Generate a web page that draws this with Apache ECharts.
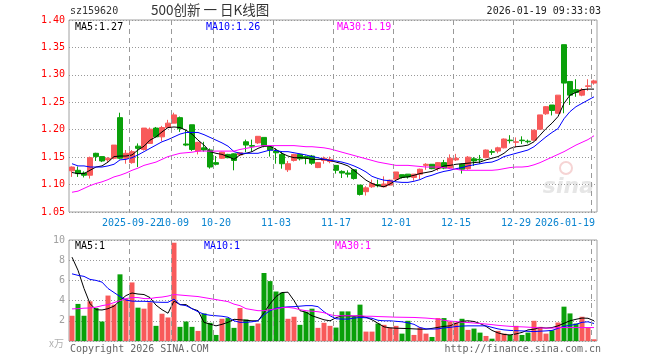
<!DOCTYPE html>
<html><head><meta charset="utf-8">
<script src="https://cdn.jsdelivr.net/npm/echarts@6/dist/echarts.min.js"></script>
<style>html,body{margin:0;padding:0;background:#fff}#c{width:660px;height:360px}</style>
</head><body><div id="c"></div>
<script>
const dates = [
'2025-09-08','2025-09-09','2025-09-10','2025-09-11','2025-09-12','2025-09-15','2025-09-16','2025-09-17','2025-09-18','2025-09-19',
'2025-09-22','2025-09-23','2025-09-24','2025-09-25','2025-09-26','2025-09-29','2025-09-30',
'2025-10-09','2025-10-10','2025-10-13','2025-10-14','2025-10-15','2025-10-16','2025-10-17','2025-10-20','2025-10-21','2025-10-22','2025-10-23','2025-10-24','2025-10-27','2025-10-28','2025-10-29','2025-10-30','2025-10-31',
'2025-11-03','2025-11-04','2025-11-05','2025-11-06','2025-11-07','2025-11-10','2025-11-11','2025-11-12','2025-11-13','2025-11-14','2025-11-17','2025-11-18','2025-11-19','2025-11-20','2025-11-21','2025-11-24','2025-11-25','2025-11-26','2025-11-27','2025-11-28',
'2025-12-01','2025-12-02','2025-12-03','2025-12-04','2025-12-05','2025-12-08','2025-12-09','2025-12-10','2025-12-11','2025-12-12','2025-12-15','2025-12-16','2025-12-17','2025-12-18','2025-12-19','2025-12-22','2025-12-23','2025-12-24','2025-12-25','2025-12-26','2025-12-29','2025-12-30','2025-12-31',
'2026-01-05','2026-01-06','2026-01-07','2026-01-08','2026-01-09','2026-01-12','2026-01-13','2026-01-14','2026-01-15','2026-01-16','2026-01-19'];

const opens = [1.125,1.126,1.121,1.117,1.157,1.151,1.145,1.148,1.222,1.148,1.140,1.170,1.164,1.175,1.203,1.187,1.204,1.212,1.222,1.174,1.209,1.161,
1.167,1.163,1.140,1.148,1.155,1.156,1.154,1.178,1.171,1.176,1.186,1.169,1.161,1.155,1.127,1.144,1.155,1.151,1.152,1.131,1.144,1.142,
1.135,1.124,1.121,1.127,1.099,1.087,1.096,1.100,1.096,1.099,1.110,1.118,1.119,1.113,1.119,1.135,1.137,1.129,1.140,1.131,1.145,1.137,
1.129,1.147,1.146,1.149,1.160,1.161,1.167,1.181,1.177,1.181,1.179,1.181,1.201,1.229,1.245,1.230,1.355,1.288,1.273,1.263,1.279,1.285];
const closes = [1.132,1.120,1.117,1.149,1.151,1.143,1.148,1.172,1.148,1.157,1.160,1.166,1.203,1.201,1.187,1.204,1.212,1.227,1.202,1.172,1.164,1.177,
1.163,1.132,1.137,1.159,1.149,1.144,1.158,1.172,1.170,1.188,1.170,1.163,1.158,1.138,1.138,1.155,1.147,1.148,1.139,1.140,1.148,1.146,
1.126,1.121,1.119,1.111,1.082,1.094,1.102,1.098,1.101,1.108,1.123,1.113,1.114,1.119,1.128,1.137,1.129,1.140,1.130,1.148,1.148,1.128,
1.150,1.143,1.145,1.163,1.159,1.167,1.183,1.180,1.178,1.180,1.178,1.199,1.227,1.242,1.235,1.263,1.285,1.263,1.268,1.273,1.280,1.289];
const lows = [1.114,1.114,1.113,1.111,1.143,1.141,1.141,1.146,1.146,1.138,1.138,1.132,1.162,1.174,1.186,1.179,1.203,1.212,1.196,1.170,1.161,1.155,
1.160,1.129,1.135,1.147,1.148,1.126,1.152,1.159,1.160,1.174,1.168,1.151,1.138,1.129,1.123,1.142,1.144,1.137,1.136,1.130,1.138,1.139,
1.120,1.112,1.113,1.109,1.080,1.080,1.094,1.095,1.095,1.098,1.109,1.111,1.111,1.107,1.110,1.127,1.128,1.125,1.128,1.129,1.143,1.120,
1.127,1.134,1.138,1.148,1.154,1.157,1.166,1.175,1.168,1.174,1.175,1.180,1.200,1.227,1.226,1.229,1.230,1.245,1.260,1.261,1.271,1.282];
const highs = [1.133,1.133,1.124,1.151,1.158,1.151,1.150,1.172,1.231,1.163,1.163,1.175,1.203,1.204,1.205,1.207,1.218,1.231,1.224,1.200,1.209,1.178,
1.178,1.166,1.152,1.160,1.156,1.157,1.159,1.182,1.182,1.188,1.186,1.170,1.166,1.160,1.143,1.156,1.156,1.153,1.154,1.141,1.151,1.151,
1.135,1.126,1.126,1.128,1.099,1.097,1.109,1.109,1.115,1.109,1.123,1.118,1.119,1.119,1.129,1.139,1.137,1.141,1.145,1.155,1.156,1.138,
1.152,1.150,1.154,1.164,1.164,1.169,1.184,1.190,1.186,1.188,1.182,1.200,1.227,1.243,1.245,1.263,1.355,1.288,1.292,1.276,1.292,1.291];

const ma5 = [1.122,1.120,1.120,1.126,1.132,1.134,1.141,1.151,1.152,1.152,1.154,1.163,1.170,1.181,1.187,1.196,1.204,1.205,1.204,1.199,1.192,1.181,
1.172,1.160,1.157,1.155,1.151,1.146,1.154,1.157,1.160,1.166,1.170,1.170,1.164,1.157,1.152,1.149,1.149,1.148,1.146,1.146,1.146,1.144,
1.141,1.138,1.134,1.126,1.117,1.108,1.102,1.098,1.096,1.101,1.108,1.113,1.114,1.117,1.120,1.122,1.124,1.129,1.134,1.135,1.137,1.138,
1.139,1.140,1.141,1.145,1.148,1.151,1.157,1.166,1.169,1.170,1.172,1.178,1.190,1.202,1.212,1.224,1.248,1.263,1.268,1.273,1.274,1.274];
const ma10 = [1.138,1.134,1.134,1.132,1.132,1.132,1.134,1.137,1.145,1.146,1.149,1.154,1.160,1.166,1.172,1.178,1.182,1.187,1.192,1.195,1.195,1.195,
1.191,1.186,1.181,1.176,1.170,1.160,1.157,1.157,1.157,1.157,1.160,1.163,1.162,1.160,1.160,1.158,1.156,1.154,1.151,1.149,1.146,1.144,
1.143,1.141,1.138,1.134,1.129,1.123,1.115,1.111,1.108,1.107,1.105,1.104,1.104,1.106,1.109,1.114,1.117,1.121,1.124,1.126,1.129,1.131,
1.134,1.136,1.138,1.140,1.141,1.145,1.151,1.154,1.157,1.160,1.163,1.169,1.178,1.187,1.195,1.202,1.220,1.233,1.242,1.248,1.254,1.260];
const ma30 = [1.086,1.088,1.093,1.098,1.102,1.105,1.109,1.114,1.117,1.121,1.126,1.130,1.135,1.138,1.141,1.146,1.151,1.154,1.157,1.158,1.159,1.161,
1.161,1.161,1.161,1.161,1.161,1.161,1.164,1.166,1.168,1.170,1.171,1.171,1.171,1.171,1.171,1.171,1.170,1.169,1.169,1.168,1.167,1.165,
1.162,1.159,1.156,1.153,1.150,1.147,1.144,1.141,1.139,1.137,1.135,1.135,1.135,1.134,1.133,1.132,1.132,1.132,1.131,1.129,1.128,1.126,
1.126,1.126,1.126,1.126,1.126,1.127,1.129,1.131,1.132,1.132,1.133,1.136,1.140,1.145,1.150,1.155,1.160,1.166,1.172,1.177,1.182,1.189];

const volumes = [2.5,3.67,2.5,3.93,3.27,1.93,4.5,3.6,6.6,4.17,5.8,3.3,3.2,3.83,1.5,2.7,2.33,9.73,1.4,1.93,1.4,1.0,
2.73,1.8,0.6,2.2,2.27,1.3,3.27,2.13,1.5,1.73,6.73,5.93,4.9,4.8,2.2,2.4,1.6,2.9,3.2,1.3,1.8,1.5,
1.33,2.93,2.93,2.4,3.6,0.93,0.93,1.73,1.6,1.33,1.5,0.73,2.0,0.6,1.33,0.73,0.4,2.27,2.27,1.93,1.83,2.2,
1.1,1.23,0.83,0.5,0.23,1.0,0.73,0.6,1.5,0.6,0.83,2.0,1.4,0.73,1.07,1.83,3.4,2.73,1.73,2.4,1.33,0.17];
const vma5 = [8.3,7.0,5.2,3.7,3.1,3.07,3.2,3.45,4.0,4.5,4.75,4.65,4.6,4.3,3.55,3.1,2.75,3.95,3.6,3.6,3.2,3.0,
1.85,1.67,1.5,1.65,1.85,2.15,2.1,2.05,2.0,2.0,2.8,3.67,4.4,4.8,4.83,4.0,3.0,2.85,2.5,2.3,2.1,2.0,
2.3,2.5,2.5,2.45,2.5,2.35,2.1,1.75,1.4,1.3,1.27,1.25,1.23,1.2,1.17,1.17,1.25,1.35,1.45,1.5,1.75,1.95,
2.0,1.93,1.73,1.45,1.05,0.8,0.65,0.6,0.7,0.85,1.1,1.17,1.33,1.28,1.33,1.5,1.75,2.0,2.15,2.27,2.25,2.0];
const vma10 = [6.65,6.5,6.4,6.1,6.0,5.83,5.2,4.8,4.4,4.05,3.95,3.93,3.93,3.9,3.85,3.83,3.83,4.15,3.6,3.5,3.2,2.9,
2.65,2.55,2.5,2.45,2.35,2.0,1.85,1.85,1.9,2.0,2.6,3.0,3.25,3.33,3.38,3.4,3.45,3.5,3.5,3.4,2.9,2.5,
2.2,2.17,2.17,2.27,2.33,2.3,2.25,2.05,2.0,2.0,1.95,1.9,1.8,1.65,1.33,1.2,1.18,1.2,1.3,1.35,1.43,1.48,
1.5,1.5,1.5,1.5,1.35,1.2,1.1,1.05,1.02,1.0,0.96,0.93,0.97,1.0,1.05,1.25,1.45,1.55,1.65,1.85,1.9,1.73];
const vma30 = [3.18,3.2,3.25,3.27,3.35,3.5,3.6,3.8,4.0,4.2,4.3,4.3,4.2,4.2,4.3,4.35,4.45,4.6,4.55,4.5,4.45,4.4,
4.3,4.2,4.1,4.0,3.9,3.65,3.5,3.2,3.1,3.0,3.0,3.1,3.17,3.3,3.33,3.25,3.1,3.0,2.95,2.9,2.8,2.6,
2.5,2.5,2.5,2.5,2.5,2.45,2.45,2.42,2.4,2.38,2.36,2.35,2.34,2.33,2.3,2.27,2.22,2.17,2.05,1.97,1.92,1.86,
1.83,1.78,1.73,1.68,1.62,1.55,1.5,1.45,1.42,1.4,1.37,1.33,1.3,1.27,1.28,1.32,1.33,1.33,1.33,1.33,1.33,1.33];

const tickDates = ['2025-09-22','2025-10-09','2025-10-20','2025-11-03','2025-11-17','2025-12-01','2025-12-15','2025-12-29','2026-01-19'];
const tickLabels = ['2025-09-22','10-09','10-20','11-03','11-17','12-01','12-15','12-29','2026-01-19'];
const priceTicks = {min: 1.05, max: 1.40, step: 0.05};
const volTicks = {min: 0, max: 10, step: 2};

const RED = '#f85a5a', GREEN = '#0aa00a';
const MONO = 'DejaVu Sans Mono';
const GRIDC = '#999999';
const LBLC = '#0a84d0';

const kData = dates.map((d, i) => [opens[i], closes[i], lows[i], highs[i]]);
const volData = volumes.map((v, i) => ({value: v, itemStyle: {color: closes[i] >= opens[i] ? RED : GREEN}}));
const isTickRest = (idx, val) => tickDates.indexOf(val) > 0;
const isTickFirst = (idx, val) => val === tickDates[0];

function maLine(name, data, color, xi, yi) {
  return {name, type: 'line', data, xAxisIndex: xi, yAxisIndex: yi, symbol: 'none', smooth: false,
    lineStyle: {color, width: 1}, itemStyle: {color}, z: 5, silent: true};
}

const labelBase = {hideOverlap: false, color: LBLC, fontFamily: MONO, fontSize: 10, margin: 6};

const chart = echarts.init(document.getElementById('c'), null, {renderer: 'canvas'});
chart.setOption({
  animation: false,
  backgroundColor: '#ffffff',
  grid: [
    {left: 69, top: 20, width: 528, height: 192, show: true, borderColor: '#a0a0a0', borderWidth: 1},
    {left: 69, top: 240, width: 528, height: 101, show: true, borderColor: '#a0a0a0', borderWidth: 1}
  ],
  xAxis: [
    {type: 'category', gridIndex: 0, data: dates, boundaryGap: true,
     axisLine: {show: false}, axisTick: {show: false}, splitLine: {show: false},
     axisLabel: Object.assign({}, labelBase, {interval: isTickRest,
       formatter: (v) => {
         const k = tickDates.indexOf(v);
         if (k <= 0) return '';
         if (k === tickDates.length - 1) return '{last|' + tickLabels[k] + '}';
         return tickLabels[k];
       },
       rich: {last: {color: LBLC, fontFamily: MONO, fontSize: 10, padding: [0, 58, 0, 0]}}
     })
    },
    {type: 'category', gridIndex: 1, data: dates, boundaryGap: true,
     axisLine: {show: false}, axisTick: {show: false}, axisLabel: {show: false}, splitLine: {show: false}
    },
    {type: 'category', gridIndex: 0, data: dates, boundaryGap: true, position: 'bottom',
     axisLine: {show: false}, axisTick: {show: false}, splitLine: {show: false},
     axisLabel: Object.assign({}, labelBase, {interval: isTickFirst,
       formatter: (v) => v === tickDates[0] ? tickLabels[0] : ''})
    }
  ],
  yAxis: [
    {type: 'value', gridIndex: 0, min: priceTicks.min, max: priceTicks.max, interval: priceTicks.step,
     axisLine: {show: false}, axisTick: {show: false},
     axisLabel: {color: '#ff0000', fontFamily: MONO, fontSize: 10, margin: 4, formatter: v => v.toFixed(2)},
     splitLine: {show: true, lineStyle: {color: '#999', type: [1, 2], width: 1}}
    },
    {type: 'value', gridIndex: 1, min: volTicks.min, max: volTicks.max, interval: volTicks.step,
     axisLine: {show: false}, axisTick: {show: false},
     axisLabel: {color: '#a0a0a0', fontFamily: MONO, fontSize: 10, margin: 4, formatter: v => v === 0 ? '' : String(v)},
     splitLine: {show: true, lineStyle: {color: '#999', type: [1, 2], width: 1}}
    }
  ],
  series: [
    {type: 'candlestick', xAxisIndex: 0, yAxisIndex: 0, data: kData, barWidth: 5, silent: true, z: 3,
     itemStyle: {color: RED, color0: GREEN, borderColor: RED, borderColor0: GREEN, borderWidth: 1}},
    maLine('MA5', ma5, '#000000', 0, 0),
    maLine('MA10', ma10, '#0000ff', 0, 0),
    maLine('MA30', ma30, '#ff00ff', 0, 0),
    {type: 'bar', xAxisIndex: 1, yAxisIndex: 1, data: volData, barWidth: 5, silent: true, z: 3},
    maLine('VMA5', vma5, '#000000', 1, 1),
    maLine('VMA10', vma10, '#0000ff', 1, 1),
    maLine('VMA30', vma30, '#ff00ff', 1, 1)
  ]
});

// vertical dashed date lines, positioned through the chart's own axes (between bars)
const vlines = [];
const idx0 = dates.indexOf(tickDates[0]);
const bandW = chart.convertToPixel({xAxisIndex: 0}, dates[idx0 + 1]) - chart.convertToPixel({xAxisIndex: 0}, dates[idx0]);
[[0, 0, priceTicks], [1, 1, volTicks]].forEach(([xi, yi, t]) => {
  const yTop = chart.convertToPixel({yAxisIndex: yi}, t.max);
  const yBot = chart.convertToPixel({yAxisIndex: yi}, t.min);
  tickDates.forEach(d => {
    const cx = chart.convertToPixel({xAxisIndex: xi}, d);
    const x = Math.round(cx - bandW / 2) + 0.5;
    vlines.push({type: 'line', silent: true, z: 10,
      shape: {x1: x, y1: yTop, x2: x, y2: yBot},
      style: {stroke: GRIDC, lineWidth: 1, lineDash: [5, 4]}});
  });
});

const T = (left, top, text, font, fill) => ({type: 'text', left, top, silent: true, style: {text, font, fill}});
chart.setOption({
  graphic: vlines.concat([
    T(70, 6, 'sz159620', '10px "DejaVu Sans Mono"', '#333'),
    T(151, 3, '500创新 一 日K线图', '13.5px "Noto Sans CJK SC"', '#333'),
    {type: 'text', right: 59, top: 6, silent: true, style: {text: '2026-01-19 09:33:03', font: '10px "DejaVu Sans Mono"', fill: '#222'}},
    T(75, 22, 'MA5:' + ma5[ma5.length - 1].toFixed(2), '10px "DejaVu Sans Mono"', '#000'),
    T(206, 22, 'MA10:' + ma10[ma10.length - 1].toFixed(2), '10px "DejaVu Sans Mono"', '#0000ff'),
    T(337, 22, 'MA30:' + ma30[ma30.length - 1].toFixed(2), '10px "DejaVu Sans Mono"', '#ff00ff'),
    T(75, 241, 'MA5:1', '10px "DejaVu Sans Mono"', '#000'),
    T(204, 241, 'MA10:1', '10px "DejaVu Sans Mono"', '#0000ff'),
    T(335, 241, 'MA30:1', '10px "DejaVu Sans Mono"', '#ff00ff'),
    T(49, 338, 'x万', '10px "Noto Sans CJK SC"', '#b0b0b0'),
    T(70, 344, 'Copyright 2026 SINA.COM', '10px "DejaVu Sans Mono"', '#666'),
    {type: 'text', right: 59, top: 344, silent: true, style: {text: 'http://finance.sina.com.cn', font: '10px "DejaVu Sans Mono"', fill: '#666'}},
    {type: 'text', right: 66, top: 176, z: -1, silent: true, style: {text: 'sina', font: 'italic bold 22px "DejaVu Sans"', fill: '#e6e6e6'}},
    {type: 'circle', shape: {cx: 566, cy: 168, r: 6}, z: -1, silent: true, style: {fill: 'none', stroke: '#f6d4d4', lineWidth: 2}}
  ])
});
</script></body></html>
